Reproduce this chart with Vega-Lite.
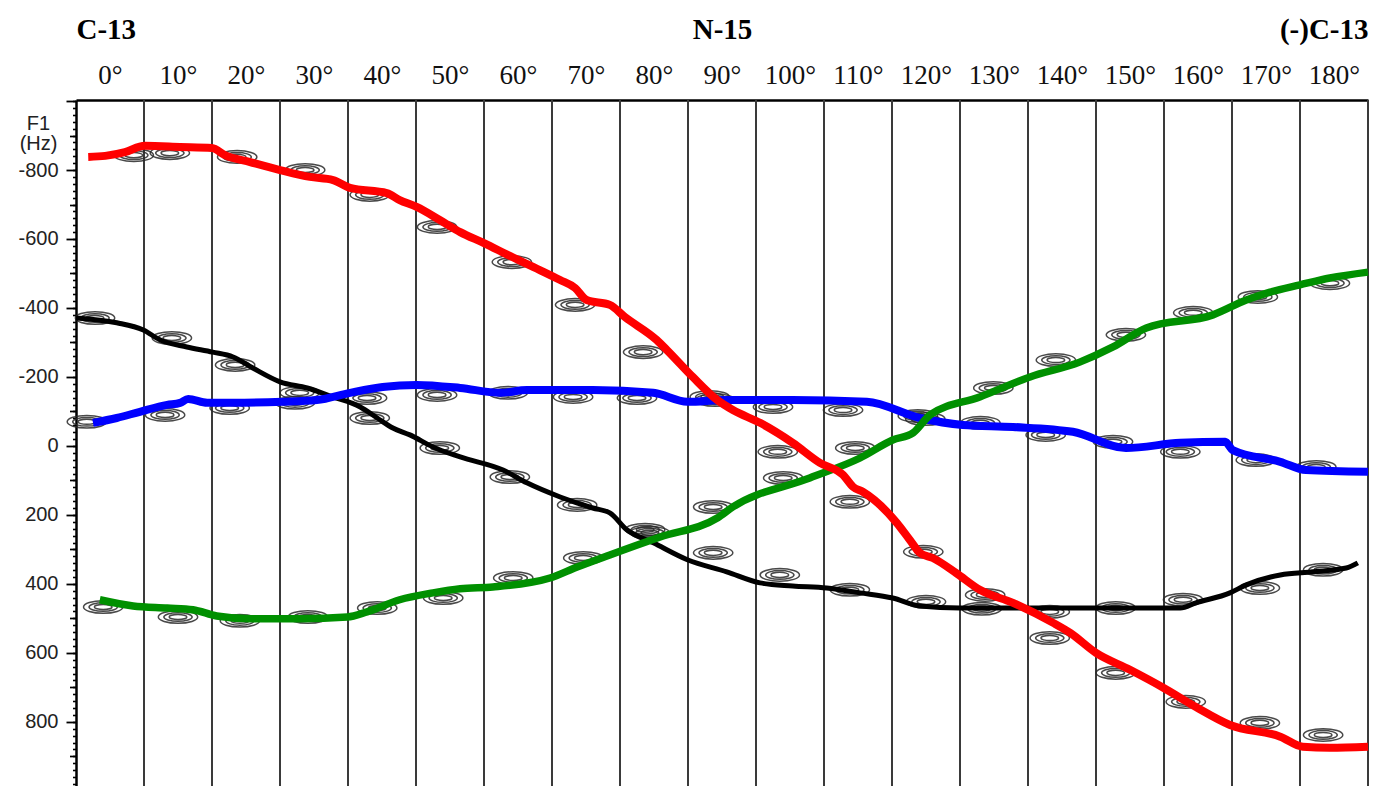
{
  "$schema": "https://vega.github.io/schema/vega-lite/v6.json",
  "width": 1292,
  "height": 686,
  "autosize": {"type": "none"},
  "padding": {"left": 76, "top": 100, "right": 5, "bottom": 0},
  "background": "white",
  "config": {"view": {"stroke": null}},
  "datasets": {
    "strips": [
      {"edge": 5}, {"edge": 15}, {"edge": 25}, {"edge": 35}, {"edge": 45},
      {"edge": 55}, {"edge": 65}, {"edge": 75}, {"edge": 85}, {"edge": 95},
      {"edge": 105}, {"edge": 115}, {"edge": 125}, {"edge": 135}, {"edge": 145},
      {"edge": 155}, {"edge": 165}, {"edge": 175}, {"edge": 185}
    ],
    "peaks": [
      {"angle": 3.5, "hz": -843}, {"angle": -2.2, "hz": -371}, {"angle": -3.4, "hz": -70}, {"angle": -1.0, "hz": 467},
      {"angle": 8.8, "hz": -849}, {"angle": 9.1, "hz": -313}, {"angle": 8.1, "hz": -90}, {"angle": 10.0, "hz": 496},
      {"angle": 18.7, "hz": -838}, {"angle": 18.4, "hz": -235}, {"angle": 17.6, "hz": -110}, {"angle": 19.1, "hz": 507},
      {"angle": 28.7, "hz": -800}, {"angle": 27.9, "hz": -154}, {"angle": 27.2, "hz": -125}, {"angle": 29.1, "hz": 496},
      {"angle": 38.2, "hz": -728}, {"angle": 37.8, "hz": -139}, {"angle": 38.2, "hz": -81}, {"angle": 39.3, "hz": 470},
      {"angle": 48.1, "hz": -635}, {"angle": 48.1, "hz": -148}, {"angle": 48.5, "hz": 6}, {"angle": 49.0, "hz": 441},
      {"angle": 59.1, "hz": -533}, {"angle": 58.5, "hz": -154}, {"angle": 58.8, "hz": 90}, {"angle": 59.3, "hz": 383},
      {"angle": 68.4, "hz": -409}, {"angle": 68.1, "hz": -142}, {"angle": 68.7, "hz": 171}, {"angle": 69.6, "hz": 325},
      {"angle": 78.4, "hz": -272}, {"angle": 77.5, "hz": -139}, {"angle": 79.4, "hz": 252}, {"angle": 78.7, "hz": 243},
      {"angle": 88.2, "hz": -142}, {"angle": 89.0, "hz": -133}, {"angle": 88.7, "hz": 177}, {"angle": 88.7, "hz": 310},
      {"angle": 97.5, "hz": -113}, {"angle": 98.2, "hz": 17}, {"angle": 99.0, "hz": 93}, {"angle": 98.5, "hz": 374},
      {"angle": 107.8, "hz": -104}, {"angle": 109.6, "hz": 6}, {"angle": 108.8, "hz": 162}, {"angle": 108.8, "hz": 417},
      {"angle": 118.8, "hz": -87}, {"angle": 119.9, "hz": -78}, {"angle": 119.6, "hz": 307}, {"angle": 120.0, "hz": 452},
      {"angle": 129.9, "hz": -168}, {"angle": 128.0, "hz": -67}, {"angle": 128.7, "hz": 432}, {"angle": 128.2, "hz": 472},
      {"angle": 139.1, "hz": -249}, {"angle": 137.6, "hz": -32}, {"angle": 138.2, "hz": 481}, {"angle": 138.2, "hz": 557},
      {"angle": 149.4, "hz": -322}, {"angle": 147.5, "hz": -12}, {"angle": 147.9, "hz": 470}, {"angle": 147.9, "hz": 658},
      {"angle": 159.3, "hz": -386}, {"angle": 157.4, "hz": 17}, {"angle": 157.8, "hz": 446}, {"angle": 158.2, "hz": 742},
      {"angle": 168.8, "hz": -432}, {"angle": 168.5, "hz": 41}, {"angle": 169.1, "hz": 412}, {"angle": 169.1, "hz": 803},
      {"angle": 179.4, "hz": -472}, {"angle": 177.4, "hz": 61}, {"angle": 178.4, "hz": 359}, {"angle": 178.4, "hz": 838}
    ],
    "curves": [
      {"series": "black", "angle": -5.0, "hz": -371}, {"series": "black", "angle": 1.0, "hz": -357},
      {"series": "black", "angle": 4.9, "hz": -336}, {"series": "black", "angle": 7.4, "hz": -307},
      {"series": "black", "angle": 11.3, "hz": -287}, {"series": "black", "angle": 15.1, "hz": -272},
      {"series": "black", "angle": 18.1, "hz": -258}, {"series": "black", "angle": 21.0, "hz": -226},
      {"series": "black", "angle": 25.0, "hz": -186}, {"series": "black", "angle": 29.0, "hz": -168},
      {"series": "black", "angle": 32.8, "hz": -142}, {"series": "black", "angle": 36.8, "hz": -113},
      {"series": "black", "angle": 39.3, "hz": -81}, {"series": "black", "angle": 41.6, "hz": -52},
      {"series": "black", "angle": 44.1, "hz": -32}, {"series": "black", "angle": 47.5, "hz": 3},
      {"series": "black", "angle": 51.5, "hz": 32}, {"series": "black", "angle": 57.8, "hz": 70},
      {"series": "black", "angle": 61.3, "hz": 107}, {"series": "black", "angle": 66.2, "hz": 148},
      {"series": "black", "angle": 71.0, "hz": 180}, {"series": "black", "angle": 73.5, "hz": 194},
      {"series": "black", "angle": 76.0, "hz": 243}, {"series": "black", "angle": 79.9, "hz": 281},
      {"series": "black", "angle": 84.9, "hz": 330}, {"series": "black", "angle": 90.7, "hz": 365},
      {"series": "black", "angle": 95.6, "hz": 397}, {"series": "black", "angle": 100.4, "hz": 406},
      {"series": "black", "angle": 105.4, "hz": 412}, {"series": "black", "angle": 110.3, "hz": 426},
      {"series": "black", "angle": 115.1, "hz": 441}, {"series": "black", "angle": 119.1, "hz": 464},
      {"series": "black", "angle": 125.0, "hz": 470}, {"series": "black", "angle": 145.6, "hz": 470},
      {"series": "black", "angle": 157.4, "hz": 470}, {"series": "black", "angle": 159.7, "hz": 455},
      {"series": "black", "angle": 164.7, "hz": 426}, {"series": "black", "angle": 167.1, "hz": 403},
      {"series": "black", "angle": 172.1, "hz": 374}, {"series": "black", "angle": 176.9, "hz": 365},
      {"series": "black", "angle": 181.8, "hz": 354}, {"series": "black", "angle": 183.5, "hz": 339},

      {"series": "blue", "angle": -2.5, "hz": -67}, {"series": "blue", "angle": 1.0, "hz": -81},
      {"series": "blue", "angle": 4.4, "hz": -99}, {"series": "blue", "angle": 8.4, "hz": -119},
      {"series": "blue", "angle": 10.3, "hz": -125}, {"series": "blue", "angle": 11.5, "hz": -136},
      {"series": "blue", "angle": 14.3, "hz": -125}, {"series": "blue", "angle": 18.1, "hz": -125},
      {"series": "blue", "angle": 25.4, "hz": -128}, {"series": "blue", "angle": 30.4, "hz": -133},
      {"series": "blue", "angle": 35.3, "hz": -154}, {"series": "blue", "angle": 40.1, "hz": -171},
      {"series": "blue", "angle": 45.1, "hz": -177}, {"series": "blue", "angle": 51.5, "hz": -168},
      {"series": "blue", "angle": 57.4, "hz": -154}, {"series": "blue", "angle": 61.3, "hz": -162},
      {"series": "blue", "angle": 71.0, "hz": -162}, {"series": "blue", "angle": 79.9, "hz": -154},
      {"series": "blue", "angle": 84.9, "hz": -128}, {"series": "blue", "angle": 90.7, "hz": -133},
      {"series": "blue", "angle": 100.4, "hz": -133}, {"series": "blue", "angle": 111.3, "hz": -128},
      {"series": "blue", "angle": 119.1, "hz": -81}, {"series": "blue", "angle": 125.4, "hz": -61},
      {"series": "blue", "angle": 132.8, "hz": -55}, {"series": "blue", "angle": 141.6, "hz": -41},
      {"series": "blue", "angle": 149.4, "hz": 6}, {"series": "blue", "angle": 157.4, "hz": -9},
      {"series": "blue", "angle": 164.0, "hz": -12}, {"series": "blue", "angle": 165.1, "hz": 12},
      {"series": "blue", "angle": 172.1, "hz": 46}, {"series": "blue", "angle": 175.9, "hz": 70},
      {"series": "blue", "angle": 185.0, "hz": 75},

      {"series": "green", "angle": -1.5, "hz": 446}, {"series": "green", "angle": 3.4, "hz": 464},
      {"series": "green", "angle": 8.4, "hz": 470}, {"series": "green", "angle": 12.2, "hz": 475},
      {"series": "green", "angle": 15.7, "hz": 493}, {"series": "green", "angle": 20.6, "hz": 501},
      {"series": "green", "angle": 27.9, "hz": 501}, {"series": "green", "angle": 34.9, "hz": 496},
      {"series": "green", "angle": 37.8, "hz": 481}, {"series": "green", "angle": 42.6, "hz": 446},
      {"series": "green", "angle": 47.5, "hz": 426}, {"series": "green", "angle": 51.5, "hz": 414},
      {"series": "green", "angle": 56.3, "hz": 409}, {"series": "green", "angle": 64.7, "hz": 383},
      {"series": "green", "angle": 68.7, "hz": 351}, {"series": "green", "angle": 73.5, "hz": 316},
      {"series": "green", "angle": 80.9, "hz": 264}, {"series": "green", "angle": 89.3, "hz": 209},
      {"series": "green", "angle": 91.6, "hz": 177}, {"series": "green", "angle": 102.9, "hz": 93},
      {"series": "green", "angle": 110.3, "hz": 35}, {"series": "green", "angle": 115.1, "hz": -17},
      {"series": "green", "angle": 118.1, "hz": -38}, {"series": "green", "angle": 120.6, "hz": -90},
      {"series": "green", "angle": 127.9, "hz": -142}, {"series": "green", "angle": 135.3, "hz": -200},
      {"series": "green", "angle": 142.6, "hz": -243}, {"series": "green", "angle": 147.5, "hz": -287},
      {"series": "green", "angle": 152.4, "hz": -342}, {"series": "green", "angle": 162.2, "hz": -380},
      {"series": "green", "angle": 167.1, "hz": -423}, {"series": "green", "angle": 170.6, "hz": -446},
      {"series": "green", "angle": 175.0, "hz": -467}, {"series": "green", "angle": 179.4, "hz": -487},
      {"series": "green", "angle": 185.0, "hz": -504},

      {"series": "red", "angle": -3.2, "hz": -838}, {"series": "red", "angle": -0.7, "hz": -841},
      {"series": "red", "angle": 2.2, "hz": -852}, {"series": "red", "angle": 5.1, "hz": -870},
      {"series": "red", "angle": 10.3, "hz": -867}, {"series": "red", "angle": 15.0, "hz": -864},
      {"series": "red", "angle": 16.9, "hz": -843}, {"series": "red", "angle": 20.6, "hz": -823},
      {"series": "red", "angle": 25.0, "hz": -800}, {"series": "red", "angle": 29.4, "hz": -780},
      {"series": "red", "angle": 32.8, "hz": -771}, {"series": "red", "angle": 35.3, "hz": -748},
      {"series": "red", "angle": 40.7, "hz": -733}, {"series": "red", "angle": 42.6, "hz": -713},
      {"series": "red", "angle": 45.1, "hz": -693}, {"series": "red", "angle": 48.5, "hz": -655},
      {"series": "red", "angle": 51.5, "hz": -620}, {"series": "red", "angle": 55.0, "hz": -588},
      {"series": "red", "angle": 58.8, "hz": -551}, {"series": "red", "angle": 63.2, "hz": -510},
      {"series": "red", "angle": 66.2, "hz": -481}, {"series": "red", "angle": 68.4, "hz": -458},
      {"series": "red", "angle": 70.1, "hz": -423}, {"series": "red", "angle": 73.5, "hz": -409},
      {"series": "red", "angle": 75.7, "hz": -374}, {"series": "red", "angle": 80.4, "hz": -307},
      {"series": "red", "angle": 81.9, "hz": -278}, {"series": "red", "angle": 85.7, "hz": -200},
      {"series": "red", "angle": 89.3, "hz": -133}, {"series": "red", "angle": 91.6, "hz": -104},
      {"series": "red", "angle": 95.6, "hz": -67}, {"series": "red", "angle": 100.4, "hz": -9},
      {"series": "red", "angle": 104.4, "hz": 49}, {"series": "red", "angle": 107.8, "hz": 84},
      {"series": "red", "angle": 109.3, "hz": 119}, {"series": "red", "angle": 110.7, "hz": 133},
      {"series": "red", "angle": 115.7, "hz": 223}, {"series": "red", "angle": 117.6, "hz": 272},
      {"series": "red", "angle": 119.1, "hz": 310}, {"series": "red", "angle": 121.0, "hz": 325},
      {"series": "red", "angle": 124.4, "hz": 368}, {"series": "red", "angle": 127.9, "hz": 417},
      {"series": "red", "angle": 132.8, "hz": 455}, {"series": "red", "angle": 138.7, "hz": 513},
      {"series": "red", "angle": 141.2, "hz": 542}, {"series": "red", "angle": 145.0, "hz": 600},
      {"series": "red", "angle": 150.0, "hz": 649}, {"series": "red", "angle": 154.9, "hz": 701},
      {"series": "red", "angle": 159.7, "hz": 757}, {"series": "red", "angle": 164.7, "hz": 809},
      {"series": "red", "angle": 172.1, "hz": 843}, {"series": "red", "angle": 175.4, "hz": 872},
      {"series": "red", "angle": 179.4, "hz": 875}, {"series": "red", "angle": 185.0, "hz": 872}
    ]
  },
  "layer": [
    {
      "data": {"name": "strips"},
      "mark": {"type": "rule", "stroke": "#3a3a3a", "strokeWidth": 2},
      "encoding": {
        "x": {
          "field": "edge", "type": "quantitative",
          "scale": {"domain": [-5, 185], "nice": false, "zero": false},
          "axis": {
            "orient": "top", "title": null,
            "values": [0, 10, 20, 30, 40, 50, 60, 70, 80, 90, 100, 110, 120, 130, 140, 150, 160, 170, 180],
            "labelExpr": "datum.value + '°'",
            "labelFont": "Liberation Serif", "labelFontSize": 27, "labelColor": "#111",
            "labelBaseline": "alphabetic", "labelPadding": 17,
            "labelOverlap": false, "labelBound": false, "labelFlush": false,
            "ticks": false, "tickSize": 0, "grid": false,
            "domain": true, "domainColor": "#000", "domainWidth": 2.5
          }
        }
      }
    },
    {
      "data": {"name": "peaks"},
      "mark": {
        "type": "point", "filled": false,
        "shape": "M-1,0A1,0.32,0,1,0,1,0A1,0.32,0,1,0,-1,0ZM-0.72,0A0.72,0.22,0,1,0,0.72,0A0.72,0.22,0,1,0,-0.72,0ZM-0.45,0A0.45,0.13,0,1,0,0.45,0A0.45,0.13,0,1,0,-0.45,0Z",
        "size": 1550, "stroke": "#2a2a2a", "strokeWidth": 1.5, "opacity": 0.85
      },
      "encoding": {
        "x": {
          "field": "angle", "type": "quantitative",
          "scale": {"domain": [-5, 185], "nice": false, "zero": false},
          "axis": {
            "orient": "top", "title": null,
            "values": [-5, 90, 185],
            "labelExpr": "datum.value < 0 ? 'C-13' : (datum.value > 100 ? '(-)C-13' : 'N-15')",
            "labelFont": "Liberation Serif", "labelFontSize": 29, "labelFontWeight": "bold", "labelColor": "#000",
            "labelBaseline": "alphabetic", "labelPadding": 62,
            "labelAlign": {
              "condition": [
                {"test": "datum.value < 0", "value": "left"},
                {"test": "datum.value > 100", "value": "right"}
              ],
              "value": "center"
            },
            "labelOverlap": false, "labelBound": false, "labelFlush": false,
            "ticks": false, "tickSize": 0, "grid": false, "domain": false
          }
        },
        "y": {
          "field": "hz", "type": "quantitative",
          "scale": {"domain": [-1003, 986], "reverse": true, "nice": false, "zero": false},
          "axis": {
            "orient": "left",
            "values": [-1000, -800, -600, -400, -200, 0, 200, 400, 600, 800],
            "labelExpr": "abs(datum.value) < 1000 ? ('' + datum.value) : ''",
            "labelFont": "Liberation Sans", "labelFontSize": 20, "labelColor": "#222",
            "labelPadding": 8, "labelOverlap": false, "labelBound": false, "labelFlush": false,
            "ticks": true, "tickSize": 10, "tickWidth": 1.8, "tickColor": "#000",
            "domain": true, "domainColor": "#000", "domainWidth": 2.5, "grid": false,
            "title": ["F1", "(Hz)"], "titleAngle": 0, "titleFont": "Liberation Sans", "titleFontSize": 20,
            "titleFontWeight": "normal", "titleColor": "#222", "titleAlign": "center", "titleBaseline": "middle",
            "titleX": -38, "titleY": 23, "titleLineHeight": 20
          }
        }
      }
    },
    {
      "data": {"name": "curves"},
      "transform": [{"filter": "datum.series === 'black'"}],
      "mark": {"type": "line", "interpolate": "monotone", "stroke": "#000000", "strokeWidth": 5, "strokeJoin": "round", "strokeCap": "butt"},
      "encoding": {
        "x": {"field": "angle", "type": "quantitative", "scale": {"domain": [-5, 185], "nice": false, "zero": false}, "axis": null},
        "y": {
          "field": "hz", "type": "quantitative",
          "scale": {"domain": [-1003, 986], "reverse": true, "nice": false, "zero": false},
          "axis": {
            "orient": "left", "title": null, "labels": false, "domain": false, "grid": false,
            "values": [-1000, -980, -960, -940, -920, -900, -880, -860, -840, -820, -800, -780, -760, -740, -720, -700, -680, -660, -640, -620, -600, -580, -560, -540, -520, -500, -480, -460, -440, -420, -400, -380, -360, -340, -320, -300, -280, -260, -240, -220, -200, -180, -160, -140, -120, -100, -80, -60, -40, -20, 0, 20, 40, 60, 80, 100, 120, 140, 160, 180, 200, 220, 240, 260, 280, 300, 320, 340, 360, 380, 400, 420, 440, 460, 480, 500, 520, 540, 560, 580, 600, 620, 640, 660, 680, 700, 720, 740, 760, 780, 800, 820, 840, 860, 880, 900, 920, 940, 960, 980],
            "ticks": true, "tickSize": 3.5, "tickWidth": 1.6, "tickColor": "#000"
          }
        }
      }
    },
    {
      "data": {"name": "curves"},
      "transform": [{"filter": "datum.series === 'blue'"}],
      "mark": {"type": "line", "interpolate": "monotone", "stroke": "#0000ff", "strokeWidth": 8, "strokeJoin": "round", "strokeCap": "butt"},
      "encoding": {
        "x": {"field": "angle", "type": "quantitative", "scale": {"domain": [-5, 185], "nice": false, "zero": false}, "axis": null},
        "y": {
          "field": "hz", "type": "quantitative",
          "scale": {"domain": [-1003, 986], "reverse": true, "nice": false, "zero": false},
          "axis": {
            "orient": "left", "title": null, "labels": false, "domain": false, "grid": false,
            "values": [-900, -700, -500, -300, -100, 100, 300, 500, 700, 900],
            "ticks": true, "tickSize": 6.5, "tickWidth": 1.7, "tickColor": "#000"
          }
        }
      }
    },
    {
      "data": {"name": "curves"},
      "transform": [{"filter": "datum.series === 'green'"}],
      "mark": {"type": "line", "interpolate": "monotone", "stroke": "#009000", "strokeWidth": 7.5, "strokeJoin": "round", "strokeCap": "butt"},
      "encoding": {
        "x": {"field": "angle", "type": "quantitative", "scale": {"domain": [-5, 185], "nice": false, "zero": false}, "axis": null},
        "y": {"field": "hz", "type": "quantitative", "scale": {"domain": [-1003, 986], "reverse": true, "nice": false, "zero": false}, "axis": null}
      }
    },
    {
      "data": {"name": "curves"},
      "transform": [{"filter": "datum.series === 'red'"}],
      "mark": {"type": "line", "interpolate": "monotone", "stroke": "#ff0000", "strokeWidth": 8, "strokeJoin": "round", "strokeCap": "butt"},
      "encoding": {
        "x": {"field": "angle", "type": "quantitative", "scale": {"domain": [-5, 185], "nice": false, "zero": false}, "axis": null},
        "y": {"field": "hz", "type": "quantitative", "scale": {"domain": [-1003, 986], "reverse": true, "nice": false, "zero": false}, "axis": null}
      }
    }
  ],
  "resolve": {"axis": {"x": "independent", "y": "independent"}}
}
